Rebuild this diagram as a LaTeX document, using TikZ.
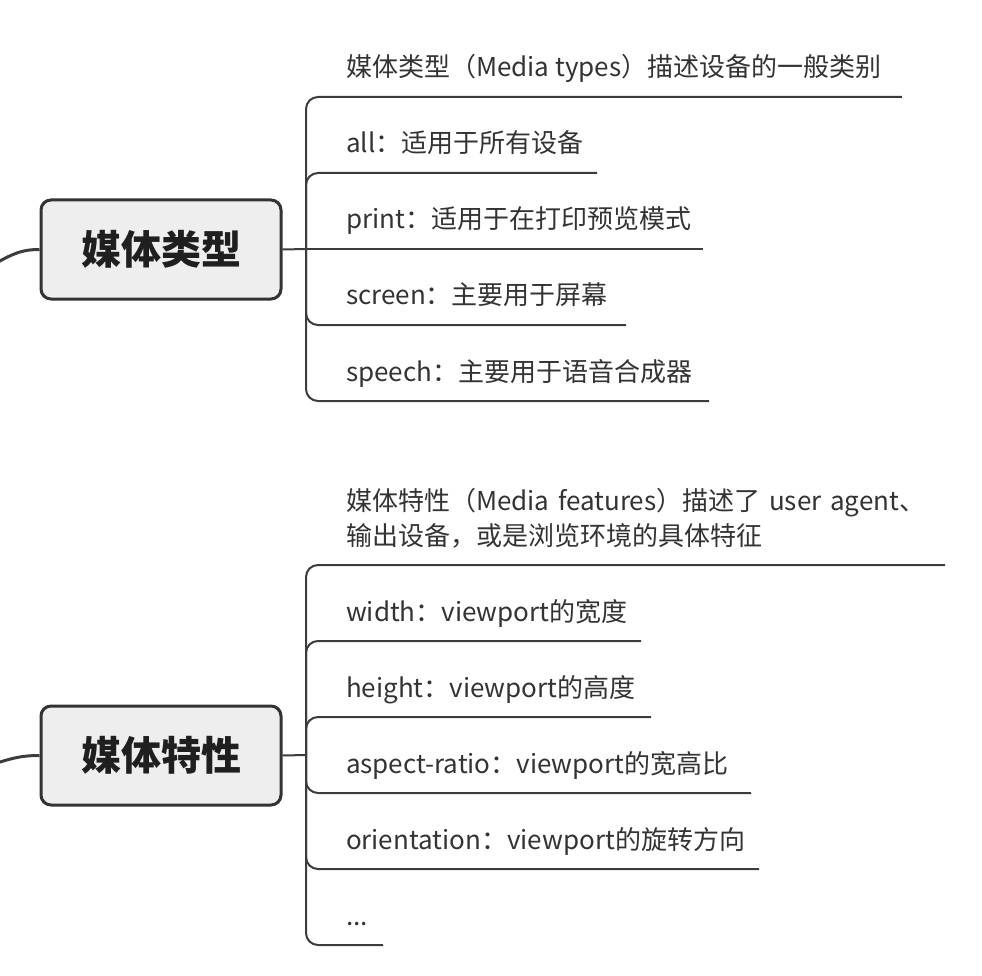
\documentclass[tikz,border=0pt]{standalone}
\usepackage{fontspec}
\setmainfont{Noto Sans CJK SC}
\usetikzlibrary{calc}
\definecolor{ink}{HTML}{333333}
\definecolor{wire}{HTML}{3C3C3C}
\definecolor{boxfill}{HTML}{EEEEEE}
\newcommand\leafbox[2]{\makebox[#1pt][l]{#2}}
\begin{document}
\begin{tikzpicture}[x=1pt,y=-1pt,
  topic/.style={draw=ink, line width=3pt, fill=boxfill, rounded corners=10pt,
    minimum width=240pt, minimum height=99pt, inner sep=0pt,
    font=\fontsize{40}{48}\selectfont\bfseries, text=black!88},
  leaf/.style={anchor=south west, inner sep=0pt, outer sep=0pt, text depth=20pt,
    font=\fontsize{26}{35}\selectfont, text=ink},
  conn/.style={draw=wire, line width=2pt, rounded corners=12pt},
  feed/.style={draw=wire, line width=3pt}]
\useasboundingbox (0,0) rectangle (982,976);

% ---------- top branch ----------
\node[topic] (p1) at (161,249.5) {媒体类型};
\coordinate (t1) at (306,249);
\coordinate (in1) at (-12,268);
\draw[feed] (in1) .. controls (14,252) and (24,249.5) .. (p1.west);

\node[leaf] (a0) at (346,97)  {\leafbox{540}{媒体类型（Media types）描述设备的一般类别}};
\node[leaf] (a1) at (346,173) {\leafbox{235}{all：适用于所有设备}};
\node[leaf] (a2) at (346,249) {\leafbox{341}{print：适用于在打印预览模式}};
\node[leaf] (a3) at (346,325) {\leafbox{264}{screen：主要用于屏幕}};
\node[leaf] (a4) at (346,401) {\leafbox{347}{speech：主要用于语音合成器}};

\draw[conn] (p1.east) -- (t1);
\draw[conn] (t1) |- ($(a0.south east)+(16,0)$);
\draw[conn] (t1) |- ($(a1.south east)+(16,0)$);
\draw[conn] (t1) -- ($(a2.south east)+(16,0)$);
\draw[conn] (t1) |- ($(a3.south east)+(16,0)$);
\draw[conn] (t1) |- ($(a4.south east)+(16,0)$);

% ---------- bottom branch ----------
\node[topic] (p2) at (161,755.5) {媒体特性};
\coordinate (t2) at (306,755);
\coordinate (in2) at (-12,766);
\draw[feed] (in2) .. controls (14,757) and (24,755.5) .. (p2.west);

\node[leaf, text width=583pt, align=left, text depth=55pt] (b0) at (346,565)
  {媒体特性（Media features）描述了 user agent、\\输出设备，或是浏览环境的具体特征};
\node[leaf] (b1) at (346,641) {\leafbox{279}{width：viewport的宽度}};
\node[leaf] (b2) at (346,717) {\leafbox{289}{height：viewport的高度}};
\node[leaf] (b3) at (346,793) {\leafbox{389}{aspect-ratio：viewport的宽高比}};
\node[leaf] (b4) at (346,869) {\leafbox{397}{orientation：viewport的旋转方向}};
\node[leaf] (b5) at (346,945) {\leafbox{21}{...}};

\draw[conn] (p2.east) -- (t2);
\draw[conn] (t2) |- ($(b0.south east)+(16,0)$);
\draw[conn] (t2) |- ($(b1.south east)+(16,0)$);
\draw[conn] (t2) |- ($(b2.south east)+(16,0)$);
\draw[conn] (t2) |- ($(b3.south east)+(16,0)$);
\draw[conn] (t2) |- ($(b4.south east)+(16,0)$);
\draw[conn] (t2) |- ($(b5.south east)+(16,0)$);
\end{tikzpicture}
\end{document}
